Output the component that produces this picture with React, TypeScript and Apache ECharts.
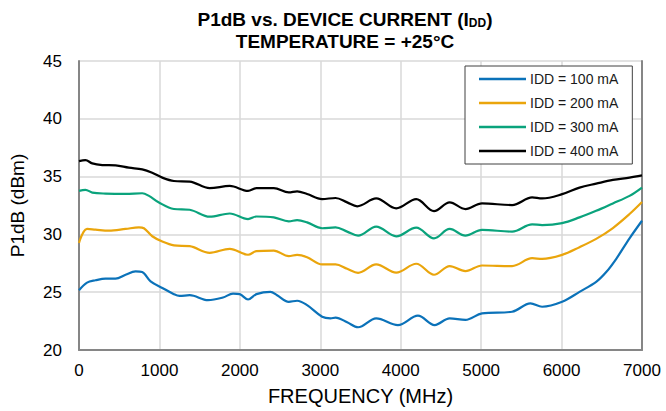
import React, { useEffect, useRef } from "react";
import * as echarts from "echarts";

// P1dB (dBm) versus frequency (MHz) for each drain current setting
const idd100: [number, number][] = [
  [0, 25.17], [100, 25.83], [205, 26.03], [330, 26.17], [454, 26.17], [579, 26.51], [703, 26.8],
  [786, 26.74], [890, 25.94], [1036, 25.37], [1180, 24.83], [1251, 24.68], [1376, 24.74],
  [1604, 24.31], [1790, 24.54], [1915, 24.88], [1998, 24.83], [2102, 24.37], [2206, 24.83],
  [2380, 25.03], [2463, 24.74], [2608, 24.17], [2712, 24.26], [2836, 23.88], [3023, 22.88],
  [3127, 22.74], [3190, 22.8], [3334, 22.4], [3470, 21.97], [3695, 22.74], [3965, 22.16],
  [4214, 22.97], [4422, 22.16], [4609, 22.74], [4804, 22.6], [5011, 23.17], [5385, 23.31],
  [5613, 24.03], [5758, 23.74], [6007, 24.17], [6223, 25.03], [6430, 25.89], [6555, 26.74],
  [6680, 27.89], [6845, 29.66], [7000, 31.18],
];

const idd200: [number, number][] = [
  [0, 29.27], [100, 30.47], [205, 30.41], [371, 30.32], [579, 30.47], [745, 30.61], [807, 30.53],
  [911, 29.84], [1036, 29.38], [1180, 29.05], [1376, 28.98], [1625, 28.41], [1874, 28.75],
  [2102, 28.24], [2206, 28.55], [2422, 28.6], [2608, 28.12], [2712, 28.23], [2836, 28.03],
  [3023, 27.4], [3190, 27.4], [3334, 27.03], [3470, 26.68], [3695, 27.4], [3944, 26.69],
  [4193, 27.46], [4414, 26.51], [4609, 27.26], [4804, 26.83], [5011, 27.31], [5385, 27.26],
  [5634, 27.94], [5758, 27.88], [6007, 28.23], [6223, 28.89], [6430, 29.61], [6638, 30.55],
  [6845, 31.76], [7000, 32.8],
];

const idd300: [number, number][] = [
  [0, 33.77], [80, 33.86], [165, 33.62], [330, 33.53], [580, 33.5], [786, 33.56], [870, 33.33],
  [994, 32.76], [1180, 32.2], [1376, 32.13], [1625, 31.53], [1874, 31.81], [2102, 31.33],
  [2206, 31.55], [2422, 31.47], [2608, 31.13], [2712, 31.24], [2836, 31.04], [3023, 30.53],
  [3190, 30.61], [3334, 30.24], [3470, 29.89], [3695, 30.67], [3944, 29.83], [4193, 30.58],
  [4414, 29.66], [4609, 30.47], [4804, 29.9], [5011, 30.39], [5385, 30.24], [5634, 30.87],
  [5758, 30.81], [6007, 30.98], [6223, 31.47], [6430, 32.04], [6638, 32.68], [6845, 33.33],
  [7000, 34.05],
];

const idd400: [number, number][] = [
  [0, 36.34], [80, 36.43], [165, 36.14], [290, 36.0], [455, 35.97], [620, 35.77], [786, 35.63],
  [910, 35.34], [1036, 34.91], [1180, 34.62], [1376, 34.57], [1625, 34.0], [1874, 34.19],
  [2102, 33.76], [2206, 34.0], [2422, 34.0], [2608, 33.63], [2712, 33.72], [2836, 33.49],
  [3023, 33.06], [3190, 33.15], [3334, 32.77], [3459, 32.43], [3695, 33.11], [3944, 32.25],
  [4193, 33.05], [4414, 32.02], [4609, 32.77], [4804, 32.19], [5011, 32.68], [5385, 32.54],
  [5634, 33.2], [5758, 33.11], [6007, 33.48], [6223, 34.05], [6430, 34.39], [6638, 34.71],
  [6845, 34.91], [7000, 35.1],
];

const seriesNames = ["IDD = 100 mA", "IDD = 200 mA", "IDD = 300 mA", "IDD = 400 mA"];
const seriesColors = ["#0b72b9", "#eaa50c", "#0aa37c", "#000000"];
const seriesData = [idd100, idd200, idd300, idd400];

const FONT = "'Liberation Sans', Arial, sans-serif";

export default function App() {
  const ref = useRef<HTMLDivElement>(null);

  useEffect(() => {
    if (!ref.current) return;
    const chart = echarts.init(ref.current, undefined, { renderer: "svg" });
    chart.setOption({
      animation: false,
      backgroundColor: "#ffffff",
      textStyle: { fontFamily: FONT },
      graphic: [
        {
          type: "text",
          x: 345,
          y: 8,
          style: {
            text: "{b|P1dB vs. DEVICE CURRENT (I}{s|DD}{b|)}\n{b|TEMPERATURE = +25°C}",
            align: "center",
            rich: {
              b: { fontFamily: FONT, fontWeight: "bold", fontSize: 19, lineHeight: 22, fill: "#000" },
              s: { fontFamily: FONT, fontWeight: "bold", fontSize: 12, lineHeight: 22, fill: "#000", padding: [8, 0, 0, 0] },
            },
          },
        },
      ],
      grid: { left: 79, right: 24, top: 61, bottom: 55, containLabel: false },
      legend: {
        orient: "vertical",
        left: 465,
        top: 66,
        padding: [6, 14, 6, 14],
        icon: "rect",
        itemWidth: 47,
        itemHeight: 2.5,
        itemGap: 10,
        backgroundColor: "#ffffff",
        borderColor: "#404040",
        borderWidth: 1,
        borderRadius: 0,
        textStyle: { fontFamily: FONT, fontSize: 14, color: "#1a1a1a", lineHeight: 14, padding: [0, 0, 0, -1] },
        data: seriesNames,
      },
      xAxis: {
        type: "value",
        min: 0,
        max: 7000,
        interval: 1000,
        name: "FREQUENCY (MHz)",
        nameLocation: "middle",
        nameGap: 36,
        nameTextStyle: { fontFamily: FONT, fontSize: 20, color: "#000" },
        axisLine: { show: true, lineStyle: { color: "#868686", width: 2 } },
        axisTick: { show: false },
        axisLabel: { fontFamily: FONT, fontSize: 17, color: "#000", margin: 12, formatter: (v: number) => String(v) },
        splitLine: { show: true, lineStyle: { color: "#d9d9d9", width: 1.5 } },
      },
      yAxis: [
        {
          type: "value",
          min: 20,
          max: 45,
          interval: 5,
          name: "P1dB (dBm)",
          nameLocation: "middle",
          nameGap: 52,
          nameRotate: 90,
          nameTextStyle: { fontFamily: FONT, fontSize: 19, color: "#000" },
          axisLine: { show: true, lineStyle: { color: "#868686", width: 2 } },
          axisTick: { show: false },
          axisLabel: { fontFamily: FONT, fontSize: 17, color: "#000", margin: 17 },
          splitLine: { show: true, lineStyle: { color: "#d9d9d9", width: 1.5 } },
        },
        {
          type: "value",
          position: "right",
          min: 20,
          max: 45,
          interval: 5,
          axisLine: { show: true, lineStyle: { color: "#868686", width: 2 } },
          axisTick: { show: false },
          axisLabel: { show: false },
          splitLine: { show: false },
        },
      ],
      series: seriesData.map((d, i) => ({
        name: seriesNames[i],
        type: "line",
        data: d,
        smooth: 0.35,
        symbol: "none",
        color: seriesColors[i],
        lineStyle: { color: seriesColors[i], width: 2.2 },
      })),
    });
    return () => chart.dispose();
  }, []);

  return (
    <div
      ref={ref}
      style={{ position: "fixed", left: 0, top: 0, width: 666, height: 411, background: "#fff" }}
    />
  );
}
